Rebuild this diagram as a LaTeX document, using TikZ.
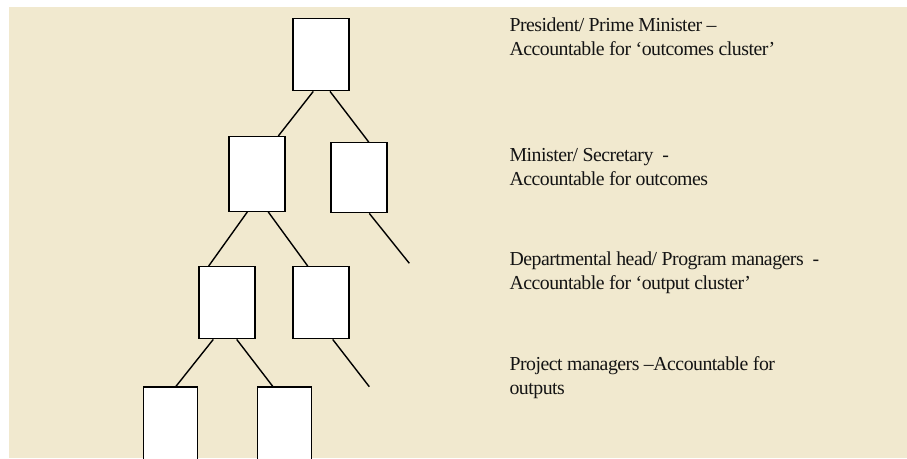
\documentclass[tikz,border=0pt]{standalone}
\usepackage{fontspec}
\setmainfont{Liberation Serif}
\newfontfamily\labelfont[LetterSpace=-2.5,Ligatures=TeX]{Liberation Serif}
\definecolor{paper}{RGB}{241,233,207}
\begin{document}
\begin{tikzpicture}[x=1pt,y=-1pt,
  post/.style={draw=black,line width=1.4pt,fill=white,inner sep=0pt,
    minimum width=56pt,minimum height=72pt},
  link/.style={draw=black,line width=1.4pt},
  role/.style={anchor=base west,align=left,inner sep=0pt,
    font=\labelfont\fontsize{19.8}{24}\selectfont,text=black!92}]
  \useasboundingbox (0,0) rectangle (907,458);
  \clip (0,0) rectangle (907,458);
  \fill[paper] (9,7) rectangle (907,458);

  % hierarchy boxes
  \node[post] (A) at (321,54.7) {};
  \node[post,minimum height=74.6pt] (B) at (257,174) {};
  \node[post,minimum height=70pt] (C) at (359,177.7) {};
  \node[post] (D) at (227,302.7) {};
  \node[post] (E) at (321,302.7) {};
  \node[post,minimum width=54pt,minimum height=120pt] (F) at (170.3,447) {};
  \node[post,minimum width=54pt,minimum height=120pt] (G) at (284.3,447) {};

  % open branches
  \coordinate (Cend) at (409.3,263.3);
  \coordinate (Eend) at (369.3,386.7);

  % reporting lines
  \draw[link] ([xshift=-7.7pt]A.south) -- ([xshift=21.3pt]B.north);
  \draw[link] ([xshift=9pt]A.south) -- ([xshift=9.7pt]C.north);
  \draw[link] ([xshift=10.3pt]C.south) -- (Cend);
  \draw[link] ([xshift=-9.7pt]B.south) -- ([xshift=-18.3pt]D.north);
  \draw[link] ([xshift=11.3pt]B.south) -- ([xshift=-13.3pt]E.north);
  \draw[link] ([xshift=-13.7pt]D.south) -- ([xshift=5.7pt]F.north);
  \draw[link] ([xshift=9.7pt]D.south) -- ([xshift=-11.6pt]G.north);
  \draw[link] ([xshift=11.7pt]E.south) -- (Eend);

  % level descriptions
  \node[role] (L1) at (509.3,55) {President/ Prime Minister –\\Accountable for ‘outcomes cluster’};
  \node[role] (L2) at (509.3,185.3) {Minister/ Secretary\ \ -\\Accountable for outcomes};
  \node[role] (L3) at (509.3,289.3) {Departmental head/ Program managers\ \ -\\Accountable for ‘output cluster’};
  \node[role] (L4) at (509.3,394) {Project managers –Accountable for\\outputs};
\end{tikzpicture}
\end{document}
